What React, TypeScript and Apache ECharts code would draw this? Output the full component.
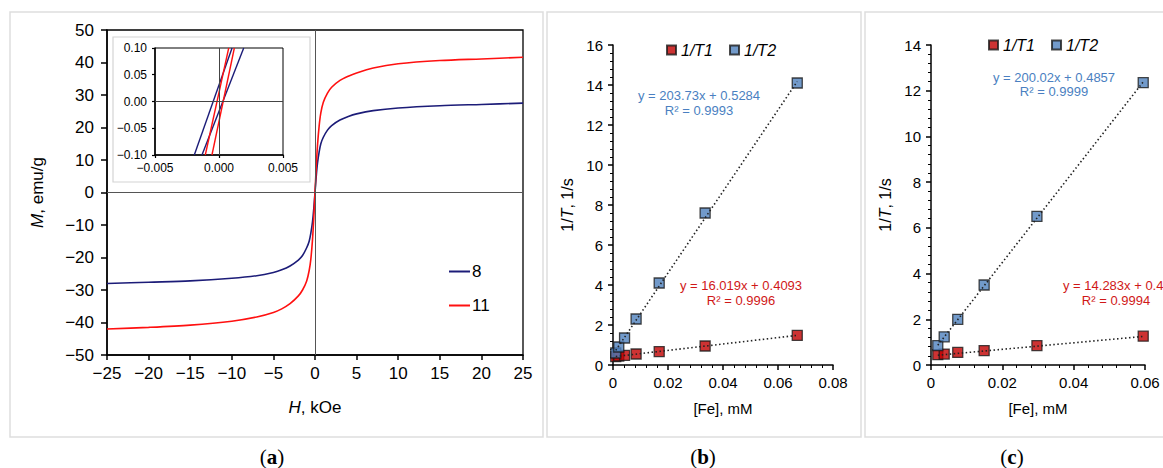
import React, { useEffect, useRef } from "react";
import * as echarts from "echarts";

// Panel (a): magnetization curves
const hField = [-25, -20, -15, -10, -7, -5, -4, -3, -2, -1.5, -1, -0.7, -0.5, -0.3, -0.15, 0, 0.15, 0.3, 0.5, 0.7, 1, 1.5, 2, 3, 4, 5, 7, 10, 15, 20, 25];
const m8 = [-28.0, -27.6, -27.2, -26.4, -25.6, -24.6, -23.8, -22.6, -20.8, -19.4, -17.0, -15.0, -12.5, -9.0, -5.0, 0, 5.0, 9.0, 12.5, 15.0, 17.0, 19.2, 20.6, 22.3, 23.4, 24.2, 25.2, 26.0, 26.7, 27.1, 27.5];
const m11 = [-42.0, -41.5, -40.8, -39.6, -38.3, -36.9, -35.8, -34.2, -31.8, -30.0, -27.2, -24.0, -20.5, -14.5, -8.0, 0, 8.0, 14.5, 20.5, 24.5, 27.8, 30.6, 32.4, 34.5, 35.8, 36.8, 38.3, 39.6, 40.6, 41.1, 41.6];

// Inset: branches near origin (H at M = -0.1 and M = +0.1)
const insetM = [-0.1, 0.1];
const inset8a = [-0.00193, 0.00102];
const inset8b = [-0.00133, 0.00193];
const inset11a = [-0.00107, 0.00076];
const inset11b = [-0.00055, 0.0012];

// Panel (b)
const feB = [0.001, 0.0021, 0.0042, 0.0084, 0.0168, 0.0335, 0.067];
const r1B = [0.42, 0.45, 0.48, 0.55, 0.67, 0.95, 1.48];
const r2B = [0.6, 0.9, 1.35, 2.3, 4.1, 7.6, 14.1];
const fitR1B = [16.019, 0.4093];
const fitR2B = [203.73, 0.5284];

// Panel (c)
const feC = [0.0019, 0.0037, 0.0075, 0.0149, 0.0297, 0.0595];
const r1C = [0.45, 0.48, 0.55, 0.63, 0.85, 1.26];
const r2C = [0.85, 1.23, 2.0, 3.5, 6.5, 12.35];
const fitR1C = [14.283, 0.4];
const fitR2C = [200.02, 0.4857];

const FONT = "'Liberation Sans', Arial, sans-serif";
const NAVY = "#1c1c78";
const RED = "#ff1010";
const SQ_RED = "#c00000";
const SQ_BLUE = "#4f81bd";

const minus = (s: string) => s.replace(/-/g, "\u2212");
const zip = (a: number[], b: number[]) => a.map((v, i) => [v, b[i]]);
const trend = (xs: number[], fit: number[]) => {
  const lo = Math.min(...xs);
  const hi = Math.max(...xs);
  return [[lo, fit[0] * lo + fit[1]], [hi, fit[0] * hi + fit[1]]];
};

export default function App() {
  const ref = useRef<HTMLDivElement>(null);
  useEffect(() => {
    if (!ref.current) return;
    const chart = echarts.init(ref.current, undefined, { renderer: "svg" });

    const axisBase = (color = "#000") => ({
      axisLine: { show: true, onZero: false, lineStyle: { color, width: 1.5 } },
      axisTick: { show: true, inside: false, length: 5, lineStyle: { color, width: 1.5 } },
      splitLine: { show: false },
    });

    const nameRich = (size: number) => ({
      fontFamily: FONT,
      color: "#000",
      rich: {
        i: { fontStyle: "italic", fontSize: size, fontFamily: FONT, color: "#000" },
        n: { fontSize: size, fontFamily: FONT, color: "#000" },
      },
    });

    const bcX = (grid: number, max: number) => ({
      gridIndex: grid,
      type: "value",
      min: 0,
      max,
      interval: 0.02,
      ...axisBase(),
      minorTick: { show: true, splitNumber: 5, length: 3, lineStyle: { color: "#000", width: 1 } },
      axisLabel: { fontSize: 15, fontFamily: FONT, color: "#000", margin: 10, formatter: (v: number) => (v === 0 ? "0" : v.toFixed(2)) },
      name: "[Fe], mM",
      nameLocation: "middle",
      nameGap: 36,
      nameTextStyle: { fontSize: 15, fontFamily: FONT, color: "#000" },
    });
    const bcY = (grid: number, max: number) => ({
      gridIndex: grid,
      type: "value",
      min: 0,
      max,
      interval: 2,
      ...axisBase(),
      minorTick: { show: true, splitNumber: 5, length: 3, lineStyle: { color: "#000", width: 1 } },
      axisLabel: { fontSize: 15, fontFamily: FONT, color: "#000", margin: 10 },
      name: "{n|1/}{i|T}{n|, 1/s}",
      nameLocation: "middle",
      nameGap: 38,
      nameTextStyle: nameRich(16),
    });

    const sq = (color: string) => ({ color, borderColor: "#1a1a1a", borderWidth: 1.3 });
    const dotted = { color: "#222", width: 1.6, type: [1.5, 2.5] as any };

    chart.setOption({
      animation: false,
      backgroundColor: "#fff",
      grid: [
        { left: 107, top: 30, width: 416, height: 325, show: true, borderColor: "#000", borderWidth: 1.3, backgroundColor: "transparent" },
        { left: 155, top: 48, width: 128, height: 107, show: true, borderColor: "#000", borderWidth: 1, backgroundColor: "#fff" },
        { left: 613, top: 45, width: 220, height: 320 },
        { left: 931, top: 45, width: 214, height: 320 },
      ],
      xAxis: [
        {
          gridIndex: 0, type: "value", min: -25, max: 25, interval: 5,
          ...axisBase(),
          axisLabel: { fontSize: 17, fontFamily: FONT, color: "#000", margin: 10, formatter: (v: number) => minus(String(v)) },
          name: "{i|H}{n|, kOe}", nameLocation: "middle", nameGap: 44, nameTextStyle: nameRich(17),
        },
        {
          gridIndex: 1, type: "value", min: -0.005, max: 0.005, interval: 0.005,
          ...axisBase(),
          axisTick: { show: true, length: 3, lineStyle: { color: "#000", width: 1.2 } },
          axisLabel: { fontSize: 12, fontFamily: FONT, color: "#000", margin: 7, formatter: (v: number) => minus(v.toFixed(3)) },
        },
        bcX(2, 0.08),
        bcX(3, 0.06),
      ],
      yAxis: [
        {
          gridIndex: 0, type: "value", min: -50, max: 50, interval: 10,
          ...axisBase(),
          axisTick: { show: true, length: 6, lineStyle: { color: "#000", width: 1.5 } },
          axisLabel: { fontSize: 17, fontFamily: FONT, color: "#000", margin: 13, formatter: (v: number) => minus(String(v)) },
          name: "{i|M}{n|, emu/g}", nameLocation: "middle", nameGap: 61, nameTextStyle: nameRich(17),
        },
        {
          gridIndex: 1, type: "value", min: -0.1, max: 0.1, interval: 0.05,
          ...axisBase(),
          axisTick: { show: true, length: 3, lineStyle: { color: "#000", width: 1.2 } },
          axisLabel: { fontSize: 12, fontFamily: FONT, color: "#000", margin: 8, formatter: (v: number) => minus(v.toFixed(2)) },
        },
        bcY(2, 16),
        bcY(3, 14),
      ],
      legend: [
        {
          data: ["8", "11"], orient: "vertical", left: 449, top: 263, icon: "rect",
          itemWidth: 21, itemHeight: 2, itemGap: 17, padding: 0,
          textStyle: { fontSize: 17, fontFamily: FONT, color: "#000", padding: [0, 0, 0, -3] },
        },
        {
          data: ["1/T1", "1/T2"], left: 666, top: 42, icon: "rect", itemWidth: 9, itemHeight: 9, itemGap: 16, padding: 0,
          textStyle: { fontSize: 16, fontStyle: "italic", fontFamily: FONT, color: "#000" },
        },
        {
          data: ["1/T1", "1/T2"], left: 988, top: 37, icon: "rect", itemWidth: 9, itemHeight: 9, itemGap: 16, padding: 0,
          textStyle: { fontSize: 16, fontStyle: "italic", fontFamily: FONT, color: "#000" },
        },
      ],
      series: [
        {
          name: "8", type: "line", xAxisIndex: 0, yAxisIndex: 0, data: zip(hField, m8), showSymbol: false, smooth: 0.3,
          lineStyle: { color: NAVY, width: 1.6 }, itemStyle: { color: NAVY },
          markLine: {
            silent: true, symbol: "none", label: { show: false },
            lineStyle: { color: "#555", width: 1, type: "solid" },
            data: [{ xAxis: 0 }, { yAxis: 0 }],
          },
          z: 3,
        },
        {
          name: "11", type: "line", xAxisIndex: 0, yAxisIndex: 0, data: zip(hField, m11), showSymbol: false, smooth: 0.3,
          lineStyle: { color: RED, width: 1.6 }, itemStyle: { color: RED }, z: 4,
        },
        {
          name: "i8a", type: "line", xAxisIndex: 1, yAxisIndex: 1, data: zip(inset8a, insetM), showSymbol: false,
          lineStyle: { color: NAVY, width: 1.4 },
          markLine: {
            silent: true, symbol: "none", label: { show: false },
            lineStyle: { color: "#444", width: 1, type: "solid" },
            data: [{ xAxis: 0 }, { yAxis: 0 }],
          },
        },
        { name: "i8b", type: "line", xAxisIndex: 1, yAxisIndex: 1, data: zip(inset8b, insetM), showSymbol: false, lineStyle: { color: NAVY, width: 1.4 } },
        { name: "i11a", type: "line", xAxisIndex: 1, yAxisIndex: 1, data: zip(inset11a, insetM), showSymbol: false, lineStyle: { color: RED, width: 1.4 } },
        { name: "i11b", type: "line", xAxisIndex: 1, yAxisIndex: 1, data: zip(inset11b, insetM), showSymbol: false, lineStyle: { color: RED, width: 1.4 } },

        { name: "1/T1", type: "scatter", xAxisIndex: 2, yAxisIndex: 2, data: zip(feB, r1B), symbol: "rect", symbolSize: 10, itemStyle: sq(SQ_RED), z: 3 },
        { name: "1/T2", type: "scatter", xAxisIndex: 2, yAxisIndex: 2, data: zip(feB, r2B), symbol: "rect", symbolSize: 10, itemStyle: sq(SQ_BLUE), z: 4 },
        { name: "fitB1", type: "line", xAxisIndex: 2, yAxisIndex: 2, data: trend(feB, fitR1B), showSymbol: false, lineStyle: dotted, z: 6 },
        { name: "fitB2", type: "line", xAxisIndex: 2, yAxisIndex: 2, data: trend(feB, fitR2B), showSymbol: false, lineStyle: dotted, z: 6 },

        { name: "1/T1", type: "scatter", xAxisIndex: 3, yAxisIndex: 3, data: zip(feC, r1C), symbol: "rect", symbolSize: 10, itemStyle: sq(SQ_RED), z: 3 },
        { name: "1/T2", type: "scatter", xAxisIndex: 3, yAxisIndex: 3, data: zip(feC, r2C), symbol: "rect", symbolSize: 10, itemStyle: sq(SQ_BLUE), z: 4 },
        { name: "fitC1", type: "line", xAxisIndex: 3, yAxisIndex: 3, data: trend(feC, fitR1C), showSymbol: false, lineStyle: dotted, z: 6 },
        { name: "fitC2", type: "line", xAxisIndex: 3, yAxisIndex: 3, data: trend(feC, fitR2C), showSymbol: false, lineStyle: dotted, z: 6 },
      ],
      graphic: [
        // panel frames
        { type: "rect", z: -10, silent: true, shape: { x: 10, y: 12, width: 533, height: 425 }, style: { fill: "none", stroke: "#dedede", lineWidth: 1.5 } },
        { type: "rect", z: -10, silent: true, shape: { x: 547, y: 12, width: 314, height: 425 }, style: { fill: "none", stroke: "#dedede", lineWidth: 1.5 } },
        { type: "rect", z: -10, silent: true, shape: { x: 865, y: 12, width: 310, height: 425 }, style: { fill: "none", stroke: "#dedede", lineWidth: 1.5 } },
        // inset frame
        { type: "rect", z: -5, silent: true, shape: { x: 113, y: 37, width: 197, height: 145 }, style: { fill: "#fff", stroke: "#d4d4d4", lineWidth: 1.2 } },
        // fit equations (b)
        { type: "text", x: 699, y: 95, style: { text: `y = ${fitR2B[0]}x + ${fitR2B[1]}`, fill: "#4a7fc1", font: `13px ${FONT}`, textAlign: "center", textVerticalAlign: "middle" } },
        { type: "text", x: 699, y: 110, style: { text: "R\u00b2 = 0.9993", fill: "#4a7fc1", font: `13px ${FONT}`, textAlign: "center", textVerticalAlign: "middle" } },
        { type: "text", x: 741, y: 285, style: { text: `y = ${fitR1B[0]}x + ${fitR1B[1]}`, fill: "#d01818", font: `13px ${FONT}`, textAlign: "center", textVerticalAlign: "middle" } },
        { type: "text", x: 741, y: 300, style: { text: "R\u00b2 = 0.9996", fill: "#d01818", font: `13px ${FONT}`, textAlign: "center", textVerticalAlign: "middle" } },
        // fit equations (c)
        { type: "text", x: 1054, y: 77, style: { text: `y = ${fitR2C[0]}x + ${fitR2C[1]}`, fill: "#4a7fc1", font: `13px ${FONT}`, textAlign: "center", textVerticalAlign: "middle" } },
        { type: "text", x: 1054, y: 91, style: { text: "R\u00b2 = 0.9999", fill: "#4a7fc1", font: `13px ${FONT}`, textAlign: "center", textVerticalAlign: "middle" } },
        { type: "text", x: 1063, y: 285, style: { text: `y = ${fitR1C[0]}x + ${fitR1C[1]}`, fill: "#d01818", font: `13px ${FONT}`, textAlign: "left", textVerticalAlign: "middle" } },
        { type: "text", x: 1116, y: 300, style: { text: "R\u00b2 = 0.9994", fill: "#d01818", font: `13px ${FONT}`, textAlign: "center", textVerticalAlign: "middle" } },
        // captions
        {
          type: "text", x: 272, y: 457,
          style: { text: "({b|a})", fill: "#000", font: "21px 'Liberation Serif', serif", textAlign: "center", textVerticalAlign: "middle", rich: { b: { fontWeight: "bold", fontSize: 21, fontFamily: "'Liberation Serif', serif" } } },
        },
        {
          type: "text", x: 703, y: 457,
          style: { text: "({b|b})", fill: "#000", font: "21px 'Liberation Serif', serif", textAlign: "center", textVerticalAlign: "middle", rich: { b: { fontWeight: "bold", fontSize: 21, fontFamily: "'Liberation Serif', serif" } } },
        },
        {
          type: "text", x: 1012, y: 457,
          style: { text: "({b|c})", fill: "#000", font: "21px 'Liberation Serif', serif", textAlign: "center", textVerticalAlign: "middle", rich: { b: { fontWeight: "bold", fontSize: 21, fontFamily: "'Liberation Serif', serif" } } },
        },
      ],
    });
    return () => chart.dispose();
  }, []);

  return <div ref={ref} style={{ position: "fixed", left: 0, top: 0, width: 1163, height: 468 }} />;
}
